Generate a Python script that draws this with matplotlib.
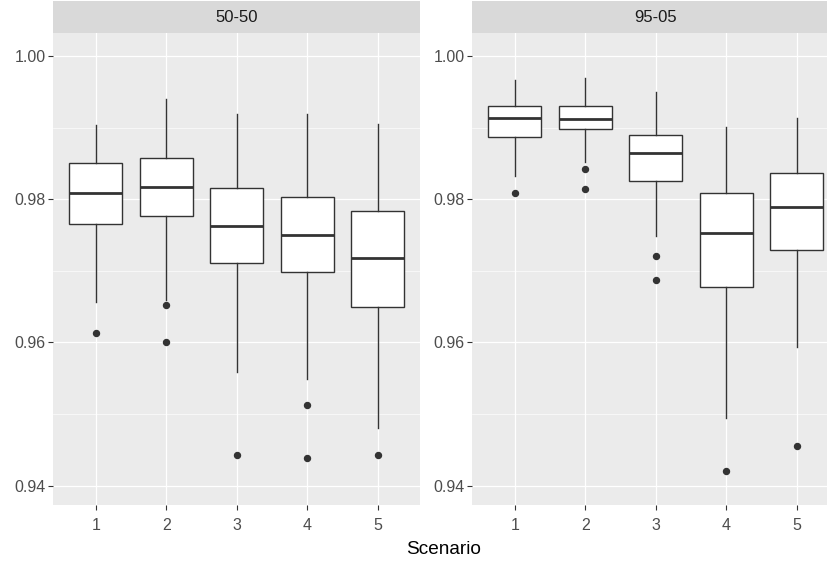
import matplotlib
matplotlib.use("Agg")
import matplotlib.pyplot as plt

# ── Data ──────────────────────────────────────────────────────────────────────
scenarios = ["1", "2", "3", "4", "5"]
facets = ["50-50", "95-05"]

# 50-50 split
med_5050    = [0.9808, 0.9817, 0.9763, 0.9750, 0.9718]
q1_5050     = [0.9766, 0.9776, 0.9711, 0.9698, 0.9650]
q3_5050     = [0.9851, 0.9857, 0.9816, 0.9803, 0.9783]
whislo_5050 = [0.9657, 0.9659, 0.9559, 0.9549, 0.9481]
whishi_5050 = [0.9904, 0.9940, 0.9919, 0.9919, 0.9905]
out_5050    = [[0.9613], [0.9652, 0.9600], [0.9443], [0.9512, 0.9439], [0.9443]]

# 95-05 split
med_9505    = [0.9914, 0.9912, 0.9864, 0.9753, 0.9789]
q1_9505     = [0.9887, 0.9898, 0.9825, 0.9677, 0.9729]
q3_9505     = [0.9930, 0.9930, 0.9890, 0.9808, 0.9836]
whislo_9505 = [0.9833, 0.9852, 0.9748, 0.9495, 0.9593]
whishi_9505 = [0.9967, 0.9969, 0.9950, 0.9901, 0.9913]
out_9505    = [[0.9808], [0.9842, 0.9814], [0.9721, 0.9687], [0.9421], [0.9456]]

yticks = [0.94, 0.96, 0.98, 1.00]
yminor = [0.95, 0.97, 0.99]

FONT = ["Liberation Sans", "DejaVu Sans"]
plt.rcParams["font.family"] = FONT

BG = "#EBEBEB"
STRIP = "#D9D9D9"
INK = "#333333"


def make_stats(q1, med, q3, lo, hi, fl):
    return [dict(q1=a, med=m, q3=b, whislo=w0, whishi=w1, fliers=f)
            for a, m, b, w0, w1, f in zip(q1, med, q3, lo, hi, fl)]


panels = [
    make_stats(q1_5050, med_5050, q3_5050, whislo_5050, whishi_5050, out_5050),
    make_stats(q1_9505, med_9505, q3_9505, whislo_9505, whishi_9505, out_9505),
]

# ── Figure layout (pixel boxes of the ggplot facets) ──────────────────────────
W, H = 828, 561
fig = plt.figure(figsize=(W / 100, H / 100), dpi=100)

panel_px = [(53.4, 420.0, 5.6), (472.4, 828.0, 5.444)]  # x0, x1, xmax
top, bottom, strip_top = 33, 505, 1

positions = list(range(1, len(scenarios) + 1))

for i, (stats, (x0, x1, xmax)) in enumerate(zip(panels, panel_px)):
    ax = fig.add_axes([x0 / W, (H - bottom) / H, (x1 - x0) / W, (bottom - top) / H])
    ax.set_facecolor(BG)
    for s in ax.spines.values():
        s.set_visible(False)

    ax.set_xlim(0.4, xmax)
    ax.set_ylim(0.9373, 1.0032)

    # grid
    for y in yminor:
        ax.axhline(y, color="white", lw=0.45, zorder=0)
    for y in yticks:
        ax.axhline(y, color="white", lw=0.9, zorder=0)
    for x in positions:
        ax.axvline(x, color="white", lw=0.9, zorder=0)

    ax.bxp(stats, positions=positions, widths=0.75, showcaps=False,
           patch_artist=True,
           boxprops=dict(facecolor="white", edgecolor=INK, linewidth=1.0),
           whiskerprops=dict(color=INK, linewidth=1.0),
           medianprops=dict(color=INK, linewidth=2.0),
           flierprops=dict(marker="o", markerfacecolor=INK, markeredgecolor=INK,
                           markersize=4.3))

    ax.set_xticks(positions)
    ax.set_xticklabels(scenarios)
    ax.set_yticks(yticks)
    ax.set_yticklabels([f"{y:.2f}" for y in yticks])
    ax.tick_params(axis="both", colors=INK, labelcolor="#4D4D4D", labelsize=11.5,
                   length=3.5, width=0.8)
    ax.tick_params(axis="x", pad=6)
    ax.tick_params(axis="y", pad=2)

    # facet strip
    sax = fig.add_axes([x0 / W, (H - top) / H, (x1 - x0) / W, (top - strip_top) / H])
    sax.set_facecolor(STRIP)
    sax.set_xticks([]); sax.set_yticks([])
    for s in sax.spines.values():
        s.set_visible(False)
    # centre of the full facet (right one is cut off by the image edge)
    cx = (0.4 + 5.6) / 2
    sax.set_xlim(0.4, xmax)
    sax.text(cx, 0.5, facets[i], ha="center", va="center", fontsize=12,
             color="#1A1A1A", transform=sax.get_xaxis_transform())

fig.text(444 / W, (H - 549) / H, "Scenario", ha="center", va="center",
         fontsize=13.7, color="black")

fig.savefig("out.png", dpi=100, facecolor="white")
